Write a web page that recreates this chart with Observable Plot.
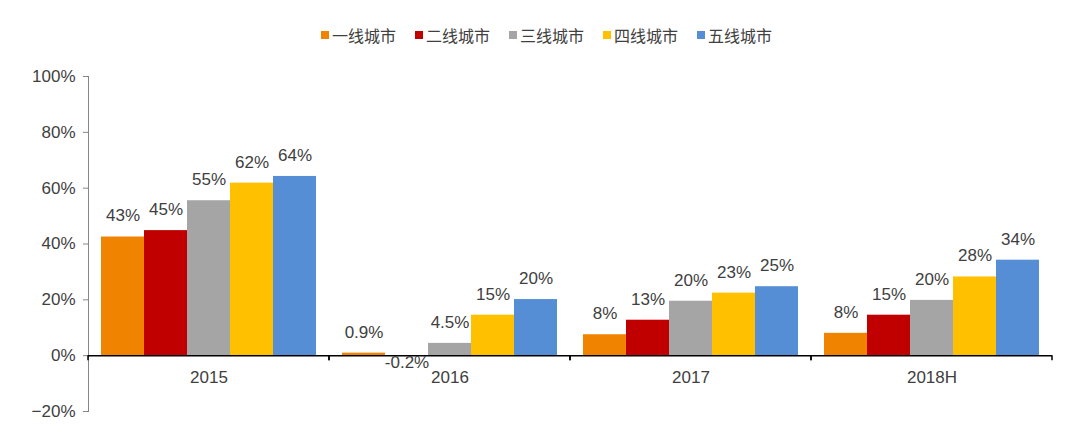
<!DOCTYPE html>
<html>
<head>
<meta charset="utf-8">
<script src="https://cdn.jsdelivr.net/npm/d3@7"></script>
<script src="https://cdn.jsdelivr.net/npm/@observablehq/plot@0.6"></script>
<style>
  html, body { margin: 0; padding: 0; background: #fff; }
  body { width: 1080px; height: 432px; overflow: hidden; font-family: "Liberation Sans", Arial, "Noto Sans CJK SC", sans-serif; color: #404040; }
  #legend { height: 56px; box-sizing: border-box; padding-top: 24px; padding-left: 13px; display: flex; justify-content: center; align-items: flex-start; }
  #legend .item { display: flex; align-items: center; margin: 0 9.5px; height: 22px; }
  #legend .sw { width: 8px; height: 8px; margin-right: 3px; }
  #legend .lb { font-family: "Noto Sans CJK SC", sans-serif; font-size: 16px; color: #404040; line-height: 22px; }
  svg text { font-family: "Liberation Sans", Arial, sans-serif; }
</style>
</head>
<body>
<div id="legend"></div>
<div id="chart"></div>
<script>
const years = ["2015", "2016", "2017", "2018H"];
const series = ["一线城市", "二线城市", "三线城市", "四线城市", "五线城市"];
const colors = ["#f08300", "#c00000", "#a5a5a5", "#ffc000", "#558ed5"];

const tier1 = [42.5, 0.9, 7.5, 8.0];
const tier2 = [44.8, -0.2, 12.7, 14.5];
const tier3 = [55.5, 4.4, 19.5, 19.8];
const tier4 = [61.8, 14.5, 22.4, 28.2];
const tier5 = [64.2, 20.1, 24.7, 34.2];

const tier1Labels = ["43%", "0.9%", "8%", "8%"];
const tier2Labels = ["45%", "-0.2%", "13%", "15%"];
const tier3Labels = ["55%", "4.5%", "20%", "20%"];
const tier4Labels = ["62%", "15%", "23%", "28%"];
const tier5Labels = ["64%", "20%", "25%", "34%"];

const yTicks = [-20, 0, 20, 40, 60, 80, 100];

const allValues = [tier1, tier2, tier3, tier4, tier5];
const allLabels = [tier1Labels, tier2Labels, tier3Labels, tier4Labels, tier5Labels];
const data = [];
years.forEach((yr, i) => {
  series.forEach((s, j) => {
    data.push({year: yr, series: s, value: allValues[j][i], label: allLabels[j][i]});
  });
});

// legend
const legend = document.getElementById("legend");
series.forEach((s, j) => {
  const it = document.createElement("div");
  it.className = "item";
  it.innerHTML = `<span class="sw" style="background:${colors[j]}"></span><span class="lb">${s}</span>`;
  legend.appendChild(it);
});

function groupTicks(index, scales, values, dimensions) {
  const y0 = scales.y(0);
  const g = d3.create("svg:g");
  const l = dimensions.marginLeft, r = dimensions.width - dimensions.marginRight;
  for (const x of [l, r]) {
    g.append("line").attr("x1", x).attr("x2", x).attr("y1", y0).attr("y2", y0 + 5)
      .attr("stroke", "#000").attr("stroke-width", 1.5);
  }
  return g.node();
}

const chart = Plot.plot({
  width: 1080,
  height: 376,
  marginTop: 20,
  marginBottom: 21,
  marginLeft: 88,
  marginRight: 28,
  style: {fontSize: "17px", color: "#404040", background: "#fff"},
  fx: {domain: years, padding: 0, axis: null},
  x: {domain: series, paddingInner: 0, paddingOuter: 0.3, axis: null},
  y: {domain: [-20, 100], axis: null},
  color: {domain: series, range: colors},
  marks: [
    Plot.frame({anchor: "left", facetAnchor: "left", stroke: "#868686"}),
    Plot.axisY(yTicks, {
      label: null,
      tickSize: 5, tickPadding: 8, stroke: "#868686", color: "#404040", fill: "#404040",
      fontSize: 17,
      tickFormat: d => (d < 0 ? "\u2212" + Math.abs(d) : d) + "%"
    }),
    Plot.barY(data, {fx: "year", x: "series", y: "value", fill: "series"}),
    Plot.ruleY([0], {stroke: "#000", strokeWidth: 1.5}),
    groupTicks,
    Plot.text(data.filter(d => d.value >= 0), {
      fx: "year", x: "series", y: "value", text: "label", dy: -21,
      fill: "#404040", fontSize: 17
    }),
    Plot.text(data.filter(d => d.value < 0), {
      fx: "year", x: "series", y: 0, text: "label", dy: 7,
      fill: "#404040", fontSize: 17
    }),
    Plot.text(years, {
      fx: d => d, y: () => 0, frameAnchor: "middle", text: d => d, dy: 22,
      fill: "#404040", fontSize: 17
    })
  ]
});
document.getElementById("chart").appendChild(chart);
</script>
</body>
</html>
